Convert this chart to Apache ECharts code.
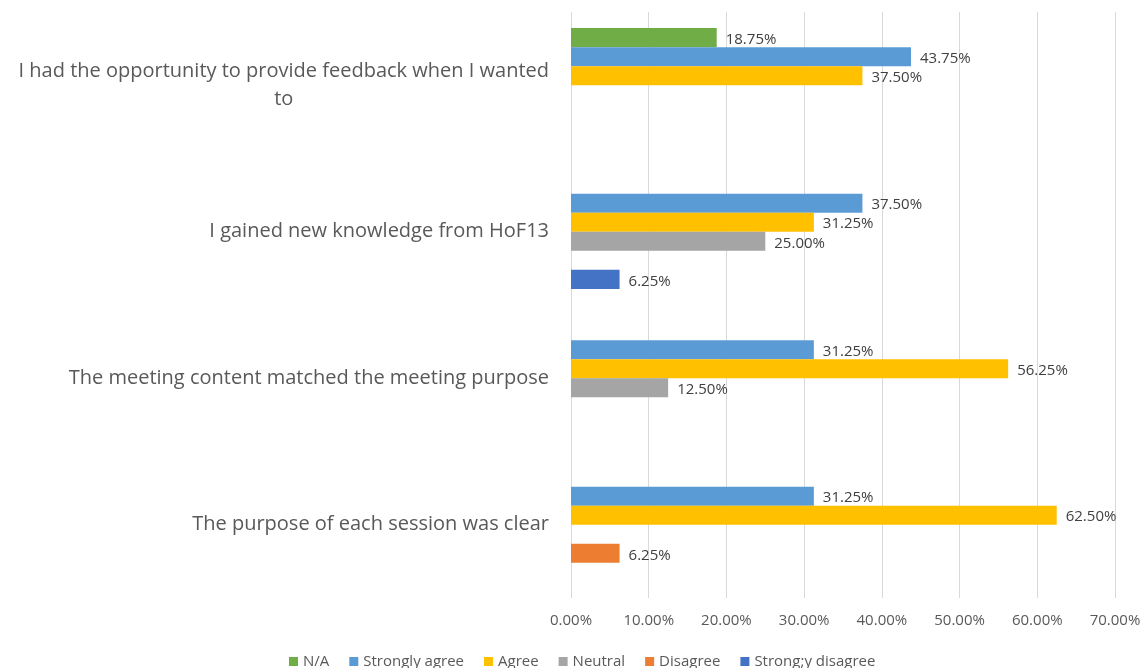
<!DOCTYPE html>
<html>
<head>
<meta charset="utf-8">
<script src="https://cdn.jsdelivr.net/npm/echarts@6/dist/echarts.min.js"></script>
<style>
  html, body { margin: 0; padding: 0; background: #fff; }
  #main { width: 1147px; height: 668px; }
</style>
</head>
<body>
<div id="main"></div>
<script>
// categories, top to bottom
var categories = [
  "I had the opportunity to provide feedback when I wanted\nto",
  "I gained new knowledge from HoF13",
  "The meeting content matched the meeting purpose",
  "The purpose of each session was clear"
];
var seriesNames = ["N/A", "Strongly agree", "Agree", "Neutral", "Disagree", "Strong;y disagree"];
var seriesColors = ["#70AD47", "#5B9BD5", "#FFC000", "#A5A5A5", "#ED7D31", "#4472C4"];
// values in %, per category (null = no bar)
var naValues = [18.75, null, null, null];
var stronglyAgreeValues = [43.75, 37.5, 31.25, 31.25];
var agreeValues = [37.5, 31.25, 56.25, 62.5];
var neutralValues = [null, 25.0, 12.5, null];
var disagreeValues = [null, null, null, 6.25];
var stronglyDisagreeValues = [null, 6.25, null, null];
var xTicks = [0, 10, 20, 30, 40, 50, 60, 70];

var allValues = [naValues, stronglyAgreeValues, agreeValues, neutralValues, disagreeValues, stronglyDisagreeValues];

var chart = echarts.init(document.getElementById("main"));

var series = seriesNames.map(function (name, i) {
  return {
    name: name,
    type: "bar",
    data: allValues[i],
    barGap: "0%",
    barCategoryGap: "22%",
    itemStyle: { color: seriesColors[i] },
    label: {
      show: true,
      position: "right",
      distance: 9,
      offset: [0, 2],
      color: "#404040",
      fontSize: 15,
      fontFamily: "Open Sans",
      formatter: function (p) { return p.value.toFixed(2) + "%"; }
    }
  };
});

var option = {
  animation: false,
  grid: { left: 571, right: 32, top: 12, bottom: 70 },
  legend: {
    data: seriesNames,
    top: 649,
    left: 284,
    icon: "rect",
    itemWidth: 9,
    itemHeight: 9,
    itemGap: 20,
    itemTextGap: 4,
    textStyle: { color: "#595959", fontSize: 15, fontFamily: "Open Sans" }
  },
  xAxis: {
    type: "value",
    min: xTicks[0],
    max: xTicks[xTicks.length - 1],
    interval: 10,
    axisLine: { show: false },
    axisTick: { show: false },
    splitLine: { lineStyle: { color: "#D9D9D9", width: 1 } },
    axisLabel: {
      color: "#595959",
      fontSize: 15,
      fontFamily: "Open Sans",
      margin: 15,
      formatter: function (v) { return v.toFixed(2) + "%"; }
    }
  },
  yAxis: {
    type: "category",
    inverse: true,
    data: categories,
    axisLine: { show: false },
    axisTick: { show: false },
    axisLabel: {
      margin: 22,
      formatter: function (v) {
        return v.split("\n").map(function (s) { return "{c|" + s + "}"; }).join("\n");
      },
      rich: {
        c: { align: "center", color: "#595959", fontSize: 20, fontFamily: "Open Sans", lineHeight: 28 }
      }
    }
  },
  series: series
};

chart.setOption(option);
</script>
</body>
</html>
